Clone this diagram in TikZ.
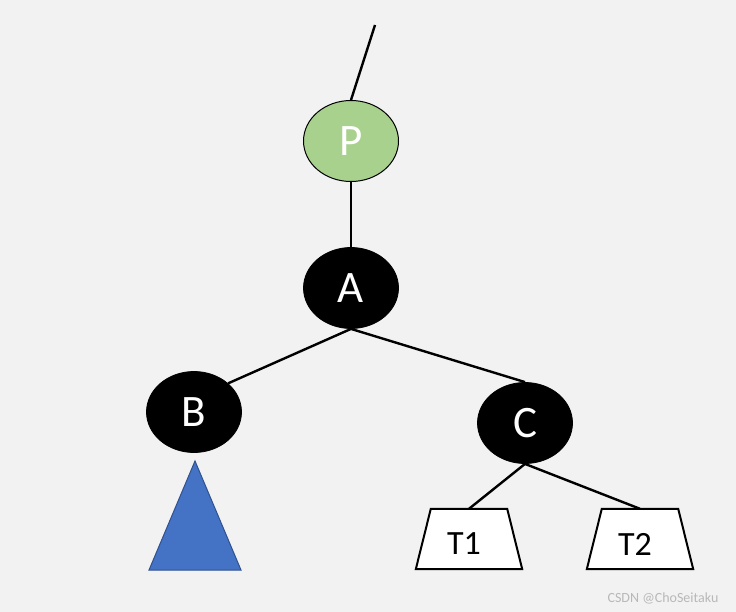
\documentclass[tikz,border=0pt]{standalone}
\usepackage{fontspec}
\setmainfont{Carlito}
\usetikzlibrary{shapes.geometric}
\definecolor{bgc}{HTML}{F2F2F2}
\definecolor{pgreen}{HTML}{A9D18E}
\definecolor{tblue}{HTML}{4472C4}
\definecolor{tbord}{HTML}{2F528F}
\tikzset{
  edge/.style={line width=2.4pt, black},
  rbnode/.style={ellipse, minimum width=95pt, minimum height=81pt, inner sep=0pt,
     text=white, font=\fontsize{45}{45}\selectfont},
  blacknode/.style={rbnode, fill=black, draw=black, line width=0.8pt},
  greennode/.style={rbnode, fill=pgreen, draw=black, line width=1pt},
  subtree/.style={rectangle, minimum width=76pt, minimum height=60pt, inner sep=0pt,
     font=\fontsize{34}{34}\selectfont},
  trapline/.style={fill=white, draw=black, line width=2pt, line join=miter},
  tlabel/.style={font=\fontsize{34}{34}\selectfont},
  tri/.style={fill=tblue, draw=tbord, line width=1pt},
  mark text/.style={text=black!28, font=\fontsize{14}{14}\selectfont}
}
\begin{document}
\begin{tikzpicture}[x=1pt,y=-1pt]
\useasboundingbox[fill=bgc] (0,0) rectangle (736,612);
\node[greennode] (P) at (351,141) {P};
\node[blacknode] (A) at (351,288) {A};
\node[blacknode] (B) at (194,412) {B};
\node[blacknode] (C) at (525,423) {C};
\node[subtree] (T1) at (469,539) {};
\node[subtree] (T2) at (640,539) {};
\foreach \t in {T1,T2}{
  \draw[trapline] (\t.north west) -- (\t.north east) -- ([xshift=15pt]\t.south east)
     -- ([xshift=-15pt]\t.south west) -- cycle;
}
\node[tlabel] (T1l) at ([xshift=-5pt,yshift=-5pt]T1.center) {T1};
\node[tlabel] (T2l) at ([xshift=-5pt,yshift=-5pt]T2.center) {T2};
\coordinate (top) at (375,25);
\draw[edge] (top) -- (P.north);
\draw[edge] (P.south) -- (A.north);
\draw[edge] (A.south) -- (B.40);
\draw[edge] (A.south) -- (C.north);
\draw[edge] (C.south) -- (T1.north);
\draw[edge] (C.south) -- (T2.north);
\draw[tri] (195,461) -- (241,570) -- (149,570) -- cycle;
\node[mark text] (wm) at (663,598) {CSDN @ChoSeitaku};
\end{tikzpicture}
\end{document}
